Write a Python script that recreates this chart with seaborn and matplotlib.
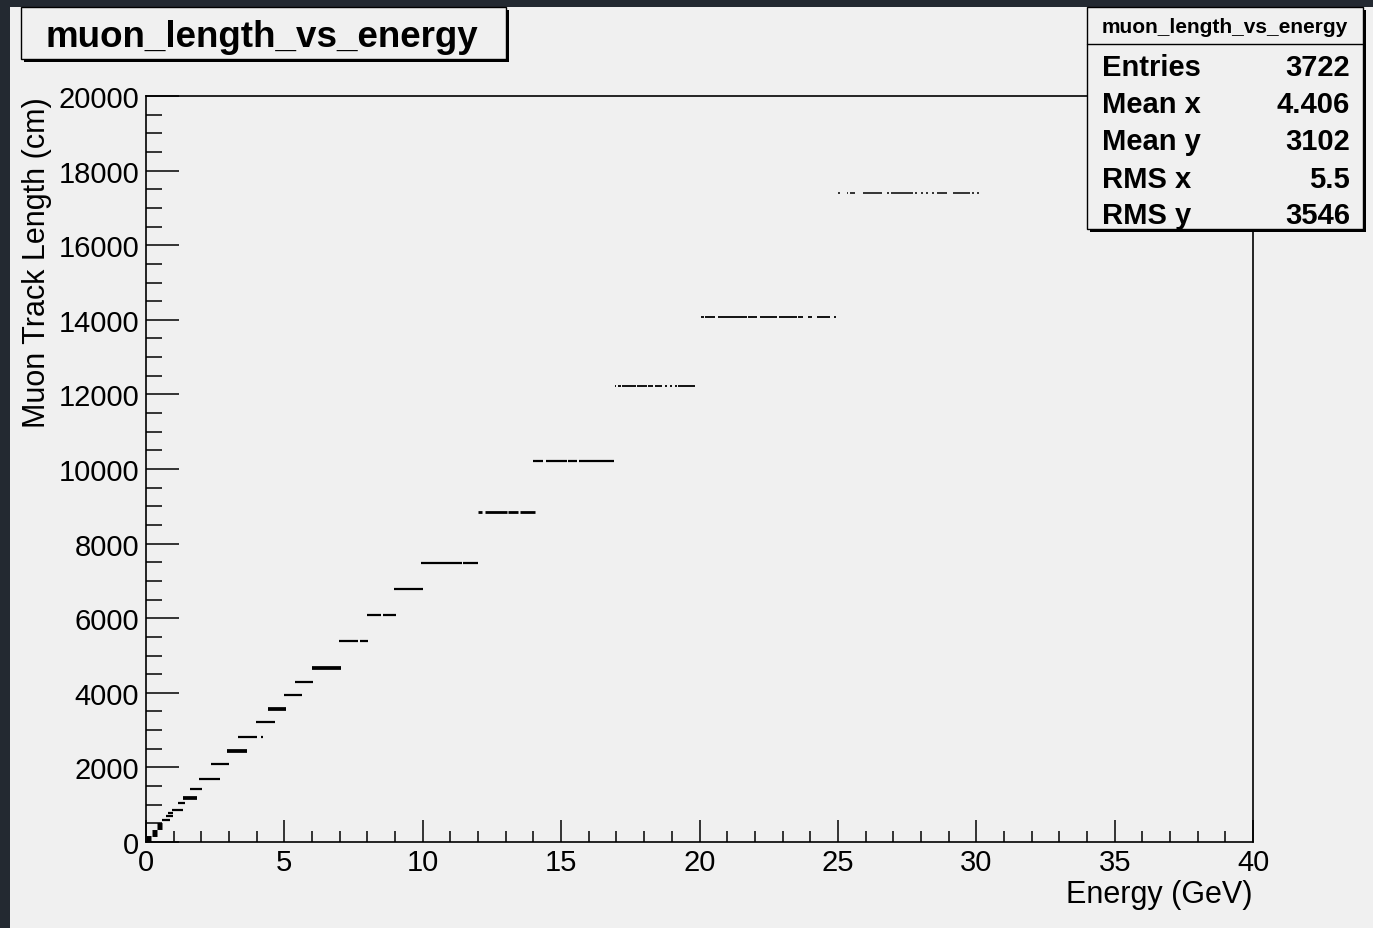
import numpy as np
import pandas as pd
import matplotlib
matplotlib.use("Agg")
import matplotlib.pyplot as plt
from matplotlib.patches import Rectangle
from matplotlib.lines import Line2D
from matplotlib.ticker import MultipleLocator
import seaborn as sns

W, H = 1373, 929

# track length levels (cm) with the energy span (GeV) of each filled run of bins
seg_y = [80, 240, 430, 590, 690, 765, 860, 1035, 1180, 1420, 1690, 2090, 2440,
         2815, 2815, 3215, 3565, 3940, 4290, 4665,
         5390, 5390, 6085, 6085, 6785, 7480, 7480,
         8845, 8845, 8845, 8845,
         10215, 10215, 10215, 10215,
         12225, 12225, 12225, 12225, 12225, 12225, 12225, 12225, 12225, 12225,
         14075, 14075, 14075, 14075, 14075, 14075, 14075, 14075, 14075, 14075,
         17400, 17400, 17400, 17400, 17400, 17400, 17400, 17400, 17400, 17400,
         17400, 17400, 17400, 17400]
seg_x0 = [0.00, 0.20, 0.38, 0.57, 0.72, 0.78, 0.93, 1.16, 1.34, 1.59, 1.92, 2.35, 2.93,
          3.32, 4.17, 3.98, 4.41, 5.00, 5.38, 6.00,
          6.97, 7.73, 7.98, 8.56, 8.96, 9.94, 11.46,
          12.01, 12.25, 13.09, 13.51,
          14.00, 14.45, 15.26, 15.63,
          16.95, 17.07, 17.21, 17.75, 18.15, 18.39, 18.75, 18.93, 19.12, 19.24,
          20.06, 20.20, 20.68, 21.76, 22.19, 22.88, 23.57, 23.93, 24.23, 24.86,
          25.02, 25.32, 25.44, 25.91, 26.78, 26.92, 27.79, 28.00, 28.18, 28.40,
          28.58, 29.16, 29.85, 30.03]
seg_x1 = [0.17, 0.40, 0.59, 0.87, 0.96, 0.98, 1.35, 1.41, 1.84, 2.02, 2.67, 3.00, 3.65,
          4.00, 4.21, 4.66, 5.06, 5.64, 6.04, 7.05,
          7.66, 8.02, 8.49, 9.03, 10.01, 11.42, 12.00,
          12.13, 13.03, 13.45, 14.06,
          14.36, 15.20, 15.56, 16.91,
          17.00, 17.15, 17.69, 18.09, 18.33, 18.65, 18.81, 19.00, 19.18, 19.84,
          20.15, 20.56, 21.70, 22.07, 22.79, 23.51, 23.75, 24.05, 24.72, 24.93,
          25.08, 25.38, 25.62, 26.59, 26.85, 27.71, 27.86, 28.08, 28.25, 28.47,
          28.94, 29.77, 29.92, 30.10]
# rough bin occupancy of each run
seg_fill = (["block"] * 3 + ["normal"] * 5 + ["dense"] + ["normal"] * 3 + ["dense"]
            + ["normal"] * 3 + ["dense"] + ["normal"] * 2 + ["dense"]
            + ["normal"] * 7
            + ["mid"] * 4
            + ["normal"] * 4
            + ["thin"] * 10
            + ["thin"] * 10
            + ["sparse"] * 14)

stat_names = ["Entries", "Mean x", "Mean y", "RMS x", "RMS y"]
stat_values = ["3722", "4.406", "3102", "5.5", "3546"]

rows = []
for i, (y, x0, x1, f) in enumerate(zip(seg_y, seg_x0, seg_x1, seg_fill)):
    rows.append({"seg": i, "energy": x0, "length": y, "fill": f})
    rows.append({"seg": i, "energy": x1, "length": y, "fill": f})
df = pd.DataFrame(rows)

sns.set_style("ticks")
plt.rcParams["font.family"] = ["Liberation Sans", "DejaVu Sans"]
plt.rcParams["text.color"] = "black"
plt.rcParams["axes.labelcolor"] = "black"
plt.rcParams["xtick.color"] = "black"
plt.rcParams["ytick.color"] = "black"

bg = "#f0f0f0"
fig = plt.figure(figsize=(W / 100, H / 100), dpi=100, facecolor=bg)


def fx(px):
    return px / W


def fy(py):
    return 1 - py / H


# dark canvas border (left and top)
fig.patches.append(Rectangle((0, fy(8)), 1, 8 / H, transform=fig.transFigure,
                             facecolor="#232931", edgecolor="none", zorder=0))
fig.patches.append(Rectangle((0, 0), fx(10), 1, transform=fig.transFigure,
                             facecolor="#232931", edgecolor="none", zorder=0))

ax = fig.add_axes([fx(146), fy(843), fx(1253) - fx(146), (843 - 97) / H])
ax.set_facecolor(bg)

sns.lineplot(data=df, x="energy", y="length", units="seg", estimator=None,
             size="fill", sizes={"sparse": 1.1, "thin": 1.3, "normal": 1.6,
                                 "mid": 2.0, "dense": 2.7, "block": 5.0},
             color="black", legend=False, sort=False, ax=ax,
             solid_capstyle="butt")

ax.set_xlim(0, 40)
ax.set_ylim(0, 20000)
ax.xaxis.set_major_locator(MultipleLocator(5))
ax.xaxis.set_minor_locator(MultipleLocator(1))
ax.yaxis.set_major_locator(MultipleLocator(2000))
ax.yaxis.set_minor_locator(MultipleLocator(500))
ax.tick_params(axis="x", which="major", direction="in", length=15.8, width=1.1,
               labelsize=21, pad=4, top=False)
ax.tick_params(axis="x", which="minor", direction="in", length=7.9, width=1.1, top=False)
ax.tick_params(axis="y", which="major", direction="in", length=23.8, width=1.1,
               labelsize=21, pad=5, right=False)
ax.tick_params(axis="y", which="minor", direction="in", length=11.5, width=1.1, right=False)
for s in ax.spines.values():
    s.set_linewidth(1.2)
    s.set_color("black")
    s.set_visible(True)

ax.set_xlabel("Energy (GeV)", fontsize=22, loc="right")
ax.xaxis.set_label_coords(1.0, (843 - 880) / 746)
ax.set_ylabel("Muon Track Length (cm)", fontsize=22, loc="top")
ax.yaxis.set_label_coords((52 - 146) / 1107, 1.0)


def pave(x0, y0, x1, y1):
    sh = 3
    fig.patches.append(Rectangle((fx(x0 + sh), fy(y1 + sh)), fx(x1 - x0), (y1 - y0) / H,
                                 transform=fig.transFigure, facecolor="black",
                                 edgecolor="none", zorder=5))
    fig.patches.append(Rectangle((fx(x0), fy(y1)), fx(x1 - x0), (y1 - y0) / H,
                                 transform=fig.transFigure, facecolor=bg,
                                 edgecolor="black", linewidth=1.0, zorder=6))


# title box
pave(21, 8, 506, 60)
fig.text(fx(262), fy(47), "muon_length_vs_energy", fontsize=26.5, fontweight="bold",
         ha="center", va="baseline", zorder=7)

# stats box
pave(1087, 8, 1363, 230)
fig.lines.append(Line2D([fx(1087), fx(1363)], [fy(45), fy(45)], transform=fig.transFigure,
                        color="black", linewidth=1.0, zorder=7))
fig.text(fx(1225), fy(33), "muon_length_vs_energy", fontsize=15, fontweight="bold",
         ha="center", va="baseline", zorder=7)
baselines = [76, 113, 150, 188, 224]
for name, val, b in zip(stat_names, stat_values, baselines):
    fig.text(fx(1102), fy(b), name, fontsize=21, fontweight="bold",
             ha="left", va="baseline", zorder=7)
    fig.text(fx(1350), fy(b), val, fontsize=21, fontweight="bold",
             ha="right", va="baseline", zorder=7)

fig.savefig("out.png", dpi=100, facecolor=bg)
